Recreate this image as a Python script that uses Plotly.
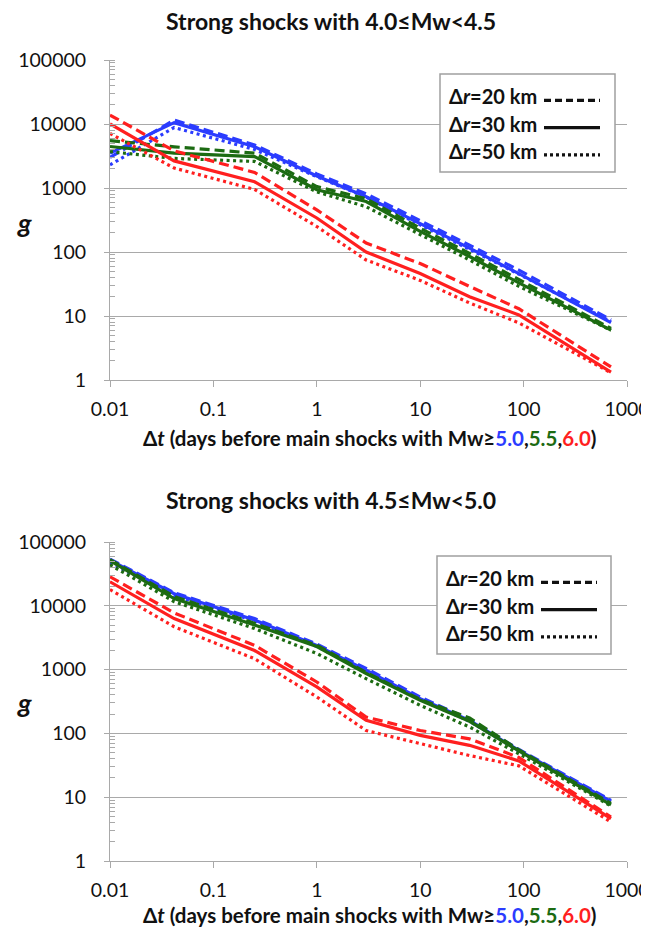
import plotly.graph_objects as go

# The page places the figure 8px in from the top-left corner (default body margin),
# so the figure is drawn 8px smaller and every position is shifted by that offset.
PAGE_W, PAGE_H = 649, 929
OFF = 8
W, H = PAGE_W - OFF, PAGE_H - OFF

# ---------------- data ----------------
t_days = [0.01, 0.0417, 0.25, 1, 3, 10, 30, 90, 700]
x_tick_vals = [0.01, 0.1, 1, 10, 100, 1000]
x_tick_text = ["0.01", "0.1", "1", "10", "100", "1000"]
y_tick_vals = [1, 10, 100, 1000, 10000, 100000]
y_tick_text = ["1", "10", "100", "1000", "10000", "100000"]

titles = ["Strong shocks with 4.0≤Mw<4.5", "Strong shocks with 4.5≤Mw<5.0"]
magnitudes = ["5.0", "5.5", "6.0"]
radii = ["Δr=20 km", "Δr=30 km", "Δr=50 km"]

# panel 1: strong shocks 4.0<=Mw<4.5
p1_mw50_r20 = [3000, 11500, 4700, 1660, 810, 310, 128, 52, 8.7]
p1_mw50_r30 = [3500, 10500, 4400, 1540, 730, 280, 115, 46, 7.9]
p1_mw50_r50 = [2300, 8800, 4000, 1500, 720, 265, 110, 45, 8.2]
p1_mw55_r20 = [5500, 4400, 3500, 1050, 680, 235, 95, 37, 6.4]
p1_mw55_r30 = [4450, 3500, 3100, 940, 615, 210, 85, 33, 6.0]
p1_mw55_r50 = [3700, 2900, 2600, 870, 510, 187, 75, 29, 6.0]
p1_mw60_r20 = [13800, 3800, 1750, 455, 138, 66, 29, 13, 1.6]
p1_mw60_r30 = [10000, 2650, 1250, 340, 100, 46, 20, 10.4, 1.33]
p1_mw60_r50 = [7100, 2050, 950, 250, 75, 36, 16, 7.8, 1.3]

# panel 2: strong shocks 4.5<=Mw<5.0
p2_mw50_r20 = [54000, 16000, 6300, 2500, 1040, 370, 165, 56, 8.9]
p2_mw50_r30 = [52000, 15500, 6000, 2400, 980, 350, 160, 54, 8.6]
p2_mw50_r50 = [47000, 14500, 5800, 2300, 930, 340, 155, 53, 8.4]
p2_mw55_r20 = [53000, 14000, 5300, 2400, 900, 340, 175, 55, 8.0]
p2_mw55_r30 = [51000, 13000, 5000, 2300, 870, 330, 155, 53, 7.6]
p2_mw55_r50 = [44000, 11600, 4400, 1790, 720, 275, 126, 48, 7.3]
p2_mw60_r20 = [28500, 7750, 2400, 640, 180, 111, 82, 42, 4.9]
p2_mw60_r30 = [23800, 6300, 1990, 535, 160, 93, 65, 37, 4.6]
p2_mw60_r50 = [18000, 4700, 1480, 373, 111, 69, 45, 31, 4.1]

panels = [
    [[p1_mw50_r20, p1_mw50_r30, p1_mw50_r50],
     [p1_mw55_r20, p1_mw55_r30, p1_mw55_r50],
     [p1_mw60_r20, p1_mw60_r30, p1_mw60_r50]],
    [[p2_mw50_r20, p2_mw50_r30, p2_mw50_r50],
     [p2_mw55_r20, p2_mw55_r30, p2_mw55_r50],
     [p2_mw60_r20, p2_mw60_r30, p2_mw60_r50]],
]

# ---------------- styles ----------------
colors = ["#2b3cff", "#1c6b12", "#ff1f1f"]
dashes = ["10px,5px", "solid", "3px,3.5px"]
legend_dashes = ["7px,4px", "solid", "3px,3px"]
LW = 3.2
FONT = "Lato"
AX_COLOR = "#a9a9a9"

# page-pixel geometry of the two plot areas (left, right, top, bottom)
plot_boxes = [(110, 627, 60, 380), (110, 627, 542, 861)]
legend_boxes = [(440, 615, 74, 172), (437, 611, 556, 654)]


def px(x):
    return (x - OFF) / W


def py(y):
    return 1 - (y - OFF) / H


fig = go.Figure()

for pi, panel in enumerate(panels):
    xa = "x" if pi == 0 else "x2"
    ya = "y" if pi == 0 else "y2"
    for ci, series_group in enumerate(panel):
        for di, vals in enumerate(series_group):
            fig.add_trace(go.Scatter(
                x=t_days, y=vals, mode="lines",
                xaxis=xa, yaxis=ya, showlegend=False,
                name=f"Mw≥{magnitudes[ci]} {radii[di]}",
                line=dict(color=colors[ci], width=LW, dash=dashes[di]),
            ))

axis_common_x = dict(
    type="log", range=[-2, 3], tickvals=x_tick_vals, ticktext=x_tick_text,
    showgrid=False, showline=True, linecolor=AX_COLOR, linewidth=1,
    ticks="outside", ticklen=6, tickcolor=AX_COLOR, tickwidth=1,
    tickfont=dict(family=FONT, size=19.5, color="#111"),
    ticklabelstandoff=6, zeroline=False, automargin=False,
    ticklabeloverflow="allow",
)
axis_common_y = dict(
    type="log", range=[0, 5], tickvals=y_tick_vals, ticktext=y_tick_text,
    showgrid=True, gridcolor=AX_COLOR, gridwidth=1,
    showline=True, linecolor=AX_COLOR, linewidth=1,
    ticks="outside", ticklen=5, tickcolor=AX_COLOR, tickwidth=1,
    tickfont=dict(family=FONT, size=19.5, color="#111"),
    ticklabelstandoff=14, zeroline=False, automargin=False,
    ticklabeloverflow="allow",
    minor=dict(ticks="inside", ticklen=5, tickcolor=AX_COLOR, dtick="D1", showgrid=False),
)

b1, b2 = plot_boxes
fig.update_layout(
    width=W, height=H, margin=dict(l=0, r=0, t=0, b=0, autoexpand=False),
    paper_bgcolor="white", plot_bgcolor="white",
    xaxis=dict(axis_common_x, domain=[px(b1[0]), px(b1[1])], anchor="y"),
    yaxis=dict(axis_common_y, domain=[py(b1[3]), py(b1[2])], anchor="x"),
    xaxis2=dict(axis_common_x, domain=[px(b2[0]), px(b2[1])], anchor="y2"),
    yaxis2=dict(axis_common_y, domain=[py(b2[3]), py(b2[2])], anchor="x2"),
)

xtitle = ("<b>Δ<i>t</i> (days before main shocks with Mw≥"
          f"<span style='color:{colors[0]}'>{magnitudes[0]}</span>,"
          f"<span style='color:{colors[1]}'>{magnitudes[1]}</span>,"
          f"<span style='color:{colors[2]}'>{magnitudes[2]}</span>)</b>")

annotations = []
shapes = []
title_y = [21, 500]
xtitle_y = [438, 915]
g_y = [222, 702]
for pi in range(2):
    annotations.append(dict(text=f"<b>{titles[pi]}</b>", x=px(331), y=py(title_y[pi]),
                            xref="paper", yref="paper", showarrow=False,
                            xanchor="center", yanchor="middle",
                            font=dict(family=FONT, size=23, color="#111")))
    annotations.append(dict(text=xtitle, x=px(369), y=py(xtitle_y[pi]),
                            xref="paper", yref="paper", showarrow=False,
                            xanchor="center", yanchor="middle",
                            font=dict(family=FONT, size=20.5, color="#111")))
    annotations.append(dict(text="<b><i>g</i></b>", x=px(24), y=py(g_y[pi]),
                            xref="paper", yref="paper", showarrow=False,
                            xanchor="center", yanchor="middle",
                            font=dict(family=FONT, size=27, color="#111")))
    # custom legend (symbols to the right of the text)
    lx0, lx1, ly0, ly1 = legend_boxes[pi]
    shapes.append(dict(type="rect", xref="paper", yref="paper",
                       x0=px(lx0), x1=px(lx1), y0=py(ly1), y1=py(ly0),
                       line=dict(color="#a0a0a0", width=1.5), fillcolor="white", layer="above"))
    row_h = (ly1 - ly0) / 3.6
    for di in range(3):
        yc = ly0 + row_h * (0.75 + di) + 2
        rtxt = radii[di].replace("r", "<i>r</i>", 1)
        annotations.append(dict(text=f"<b>{rtxt}</b>", x=px(lx0 + 7), y=py(yc),
                                xref="paper", yref="paper", showarrow=False,
                                xanchor="left", yanchor="middle",
                                font=dict(family=FONT, size=20, color="#111")))
        shapes.append(dict(type="line", xref="paper", yref="paper",
                           x0=px(lx0 + 104), x1=px(lx0 + 160), y0=py(yc + 4), y1=py(yc + 4),
                           line=dict(color="#111", width=LW, dash=legend_dashes[di]), layer="above"))

fig.update_layout(annotations=annotations, shapes=shapes)
fig.write_html("out.html")
